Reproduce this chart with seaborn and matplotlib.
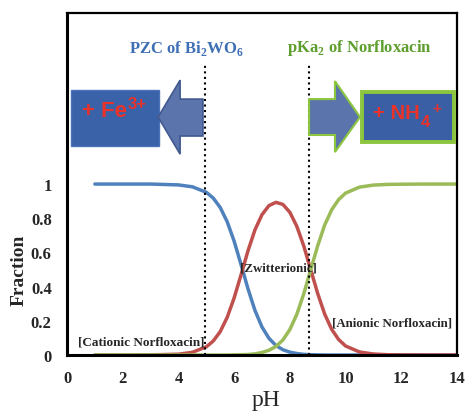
import pandas as pd
import numpy as np
import matplotlib
matplotlib.use("Agg")
import matplotlib.pyplot as plt
import seaborn as sns
from matplotlib.patches import Polygon, Rectangle

# Speciation of norfloxacin vs pH
ph = [1, 2, 3, 4, 4.5, 5, 5.25, 5.5, 5.75, 6, 6.25, 6.5, 6.75, 7, 7.25, 7.5,
      7.75, 8, 8.25, 8.5, 8.75, 9, 9.25, 9.5, 9.75, 10, 10.5, 11, 11.5, 12, 13, 14]
cationic = [1.0, 1.0, 1.0, 0.995, 0.984, 0.952, 0.918, 0.863, 0.780, 0.666, 0.528,
            0.386, 0.260, 0.164, 0.098, 0.056, 0.031, 0.017, 0.009, 0.004, 0.002,
            0.001, 0, 0, 0, 0, 0, 0, 0, 0, 0, 0]
zwitterionic = [0, 0, 0.001, 0.005, 0.016, 0.048, 0.082, 0.137, 0.220, 0.334, 0.470,
                0.611, 0.733, 0.821, 0.874, 0.893, 0.881, 0.835, 0.753, 0.638, 0.499,
                0.360, 0.240, 0.151, 0.091, 0.053, 0.018, 0.006, 0.002, 0.001, 0, 0]
anionic = [0, 0, 0, 0, 0, 0, 0, 0, 0, 0.001, 0.002, 0.003, 0.007, 0.015, 0.028, 0.050,
           0.088, 0.149, 0.238, 0.358, 0.499, 0.639, 0.760, 0.849, 0.909, 0.947,
           0.982, 0.994, 0.998, 0.999, 1.0, 1.0]

pzc_bi2wo6 = 4.95
pka2 = 8.7

x_ticks = [0, 2, 4, 6, 8, 10, 12, 14]
y_ticks = [0, 0.2, 0.4, 0.6, 0.8, 1]
y_labels = ["0", "0.2", "0.4", "0.6", "0.8", "1"]

sns.set_style("white")
plt.rcParams["font.family"] = ["Liberation Serif", "DejaVu Serif"]
plt.rcParams["mathtext.fontset"] = "custom"
plt.rcParams["mathtext.rm"] = "Liberation Serif"
plt.rcParams["mathtext.bf"] = "Liberation Serif:bold"

df = pd.DataFrame({"pH": ph * 3,
                   "Fraction": cationic + zwitterionic + anionic,
                   "species": ["cat"] * len(ph) + ["zw"] * len(ph) + ["an"] * len(ph)})

fig = plt.figure(figsize=(4.67, 4.14), dpi=100)
ax = fig.add_axes([0.1435, 0.140, 0.835, 0.826])

colors = {"cat": "#4F81BD", "zw": "#C0504D", "an": "#9BBB59"}
for sp in ["cat", "zw", "an"]:
    sns.lineplot(data=df[df["species"] == sp], x="pH", y="Fraction",
                 color=colors[sp], linewidth=2.5, ax=ax)

ax.set_xlim(0, 14)
ax.set_ylim(0, 2.0)
ax.set_xticks(x_ticks)
ax.set_yticks(y_ticks)
ax.set_yticklabels(y_labels)
ax.tick_params(length=0, labelsize=12)
ax.tick_params(axis="x", pad=11)
ax.tick_params(axis="y", pad=11)
for lab in ax.get_xticklabels() + ax.get_yticklabels():
    lab.set_fontweight("bold")
for s in ax.spines.values():
    s.set_color("black")
    s.set_linewidth(1.6)
ax.spines["left"].set_linewidth(2.2)
ax.spines["bottom"].set_linewidth(2.2)

ax.set_xlabel("pH", fontsize=17)
ax.xaxis.set_label_coords(0.51, -0.10)
ax.set_ylabel("Fraction", fontsize=14, fontweight="bold")
ax.yaxis.set_label_coords(-0.10, 0.25)

# vertical markers
for xv in [pzc_bi2wo6, pka2]:
    ax.plot([xv, xv], [0, 1.71], color="black", linestyle=":", linewidth=1.5)

# species labels
ax.text(0.4, 0.08, "[Cationic Norfloxacin]", fontsize=9.5, fontweight="bold", va="center")
ax.text(6.2, 0.51, "[Zwitterionic]", fontsize=9.3, fontweight="bold", va="center")
ax.text(9.5, 0.19, "[Anionic Norfloxacin]", fontsize=9.3, fontweight="bold", va="center")

# headers
ax.text(4.3, 1.80, r"PZC of Bi$_{\mathbf{2}}$WO$_{\mathbf{6}}$", color="#3F6FB5",
        fontsize=12, fontweight="bold", ha="center", va="center")
ax.text(10.5, 1.80, r"pKa$_{\mathbf{2}}$ of Norfloxacin", color="#5E9E2E",
        fontsize=12, fontweight="bold", ha="center", va="center")

ion_font = dict(color="#E8322A", fontweight="bold", family="Liberation Sans", zorder=4)

# Fe3+ box and arrow
ax.add_patch(Rectangle((0.14, 1.222), 3.16, 0.328, facecolor="#3A62A8",
                       edgecolor="#4A72B8", linewidth=1, zorder=3))
fe = ax.text(0.53, 1.43, "+ Fe", fontsize=16, va="center", **ion_font)
ax.annotate("3+", xy=(1.0, 1.0), xycoords=fe, xytext=(0.5, -8),
            textcoords="offset points", fontsize=12, va="bottom", **ion_font)
ax.add_patch(Polygon([(3.27, 1.392), (4.06, 1.608), (4.06, 1.497), (4.88, 1.497),
                      (4.88, 1.281), (4.06, 1.281), (4.06, 1.175)],
                     closed=True, facecolor="#5B74AB", edgecolor="#41598F",
                     linewidth=1.2, zorder=3))

# NH4+ box and arrow
ax.add_patch(Polygon([(8.69, 1.497), (9.62, 1.497), (9.62, 1.602), (10.52, 1.392),
                      (9.62, 1.187), (9.62, 1.287), (8.69, 1.287)],
                     closed=True, facecolor="#5B74AB", edgecolor="#8CC63F",
                     linewidth=1.5, zorder=3))
ax.add_patch(Rectangle((10.6, 1.246), 3.29, 0.292, facecolor="#3A5FA5",
                       edgecolor="#8CC63F", linewidth=2.8, zorder=3))
nh = ax.text(11.0, 1.42, "+ NH", fontsize=14.5, va="center", **ion_font)
ax.annotate("4", xy=(1.0, 0.0), xycoords=nh, xytext=(0.5, -5),
            textcoords="offset points", fontsize=12, va="bottom", **ion_font)
ax.annotate("+", xy=(1.0, 1.0), xycoords=nh, xytext=(9, -9),
            textcoords="offset points", fontsize=11, va="bottom", **ion_font)

fig.savefig("out.png", dpi=100)
